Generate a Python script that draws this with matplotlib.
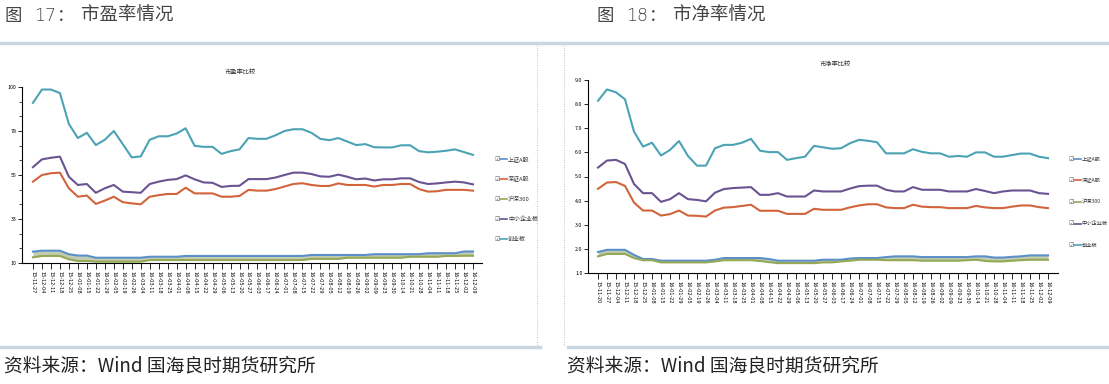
import matplotlib
matplotlib.use("Agg")
import matplotlib.pyplot as plt
from matplotlib.lines import Line2D
from matplotlib.ticker import FixedLocator

plt.rcParams['font.family'] = ['Noto Sans CJK SC', 'DejaVu Sans']

# ---- data -------------------------------------------------------------
dates = ['15-11-27', '15-12-04', '15-12-11', '15-12-18', '15-12-25', '16-01-08',
         '16-01-15', '16-01-22', '16-01-29', '16-02-05', '16-02-19', '16-02-26',
         '16-03-04', '16-03-11', '16-03-18', '16-03-25', '16-04-01', '16-04-08',
         '16-04-15', '16-04-22', '16-04-29', '16-05-06', '16-05-13', '16-05-20',
         '16-05-27', '16-06-03', '16-06-17', '16-06-24', '16-07-01', '16-07-08',
         '16-07-15', '16-07-22', '16-07-29', '16-08-05', '16-08-12', '16-08-19',
         '16-08-26', '16-09-02', '16-09-09', '16-09-23', '16-09-30', '16-10-14',
         '16-10-21', '16-10-28', '16-11-04', '16-11-11', '16-11-18', '16-11-25',
         '16-12-02', '16-12-09']
dates_pb = ['15-11-20'] + dates

names = ['上证A股', '深证A股', '沪深300', '中小企业板', '创业板']
colors = ['#5b8fc9', '#d2643c', '#94a856', '#6a5391', '#4ba3b5']

# 市盈率 (PE)
pe_sh = [15.8, 16.3, 16.3, 16.3, 14.5, 13.8, 13.8, 12.7, 12.7, 12.7, 12.7, 12.7,
         12.7, 13.2, 13.2, 13.2, 13.2, 13.6, 13.6, 13.6, 13.6, 13.6, 13.6, 13.6,
         13.6, 13.6, 13.6, 13.6, 13.6, 13.6, 13.6, 14.1, 14.1, 14.1, 14.1, 14.1,
         14.1, 14.1, 14.5, 14.5, 14.5, 14.5, 14.5, 14.5, 15.0, 15.0, 15.0, 15.0,
         15.9, 15.9]
pe_sz = [51.6, 55.0, 55.9, 56.2, 48.2, 43.9, 44.5, 40.2, 41.9, 43.9, 41.1, 40.5,
         40.0, 43.9, 44.7, 45.3, 45.3, 48.5, 45.6, 45.6, 45.6, 43.9, 43.9, 44.3,
         47.4, 47.0, 47.0, 47.8, 49.1, 50.4, 50.8, 49.9, 49.4, 49.4, 50.7, 49.9,
         49.9, 49.9, 49.1, 49.9, 49.9, 50.4, 50.4, 47.8, 46.5, 46.7, 47.4, 47.4,
         47.4, 47.0]
pe_hs300 = [12.9, 13.6, 13.6, 13.6, 11.9, 11.0, 11.0, 10.7, 10.7, 10.7, 10.7, 10.7,
            10.7, 11.5, 11.5, 11.5, 11.5, 11.5, 11.5, 11.5, 11.5, 11.5, 11.5, 11.5,
            11.5, 11.5, 11.5, 11.5, 11.5, 11.5, 11.5, 12.1, 12.1, 12.1, 12.1, 12.7,
            12.7, 12.7, 12.7, 12.7, 12.7, 12.7, 13.2, 13.2, 13.2, 13.2, 13.6, 13.6,
            13.7, 13.7]
pe_zxb = [59.0, 63.0, 63.8, 64.4, 54.1, 49.9, 50.4, 45.9, 48.2, 49.9, 46.5, 46.2,
          45.9, 50.4, 51.6, 52.5, 52.9, 54.8, 52.8, 51.2, 51.0, 48.9, 49.4, 49.5,
          52.9, 52.9, 52.9, 53.7, 55.0, 56.2, 56.2, 55.5, 54.3, 54.1, 55.2, 54.1,
          52.8, 53.2, 52.2, 52.8, 52.8, 53.3, 53.3, 51.4, 50.4, 50.7, 51.2, 51.6,
          51.2, 50.2]
pe_cyb = [91.9, 98.7, 98.7, 96.9, 81.1, 73.9, 76.6, 70.3, 73.0, 77.5, 70.8, 64.0,
          64.5, 73.0, 74.8, 74.8, 76.2, 78.9, 69.9, 69.4, 69.4, 65.8, 67.2, 68.1,
          73.9, 73.5, 73.5, 75.3, 77.5, 78.4, 78.4, 76.6, 73.5, 72.8, 73.9, 72.1,
          70.3, 70.8, 69.2, 69.1, 69.1, 70.2, 70.2, 67.2, 66.6, 66.9, 67.4, 68.1,
          66.7, 65.3]

# 市净率 (PB)
pb_sh = [1.87, 1.96, 1.96, 1.96, 1.75, 1.58, 1.58, 1.51, 1.51, 1.51, 1.51, 1.51,
         1.51, 1.55, 1.62, 1.62, 1.62, 1.62, 1.62, 1.58, 1.51, 1.51, 1.51, 1.51,
         1.51, 1.55, 1.55, 1.55, 1.60, 1.62, 1.62, 1.62, 1.66, 1.69, 1.69, 1.69,
         1.66, 1.66, 1.66, 1.66, 1.66, 1.66, 1.69, 1.69, 1.64, 1.64, 1.67, 1.69,
         1.73, 1.73, 1.73]
pb_sz = [4.49, 4.75, 4.77, 4.61, 3.92, 3.59, 3.59, 3.38, 3.44, 3.59, 3.38, 3.37,
         3.34, 3.59, 3.71, 3.73, 3.78, 3.83, 3.58, 3.58, 3.58, 3.45, 3.45, 3.45,
         3.66, 3.62, 3.62, 3.62, 3.72, 3.80, 3.85, 3.85, 3.72, 3.69, 3.69, 3.83,
         3.75, 3.73, 3.73, 3.69, 3.69, 3.69, 3.78, 3.72, 3.69, 3.69, 3.75, 3.80,
         3.80, 3.73, 3.69]
pb_hs300 = [1.69, 1.79, 1.79, 1.79, 1.62, 1.53, 1.53, 1.44, 1.44, 1.44, 1.44, 1.44,
            1.44, 1.48, 1.53, 1.53, 1.53, 1.53, 1.50, 1.45, 1.41, 1.41, 1.41, 1.41,
            1.41, 1.44, 1.44, 1.48, 1.51, 1.55, 1.55, 1.55, 1.53, 1.53, 1.53, 1.53,
            1.51, 1.51, 1.51, 1.51, 1.51, 1.53, 1.55, 1.50, 1.48, 1.48, 1.51, 1.53,
            1.55, 1.55, 1.55]
pb_zxb = [5.37, 5.66, 5.69, 5.52, 4.69, 4.31, 4.31, 3.95, 4.06, 4.31, 4.06, 4.03,
          3.97, 4.33, 4.48, 4.52, 4.54, 4.56, 4.24, 4.24, 4.31, 4.17, 4.17, 4.17,
          4.42, 4.38, 4.38, 4.38, 4.50, 4.60, 4.62, 4.62, 4.45, 4.38, 4.38, 4.56,
          4.45, 4.45, 4.45, 4.38, 4.38, 4.38, 4.48, 4.40, 4.31, 4.38, 4.42, 4.42,
          4.42, 4.31, 4.28]
pb_cyb = [8.14, 8.61, 8.49, 8.20, 6.86, 6.24, 6.40, 5.87, 6.10, 6.47, 5.85, 5.45,
          5.45, 6.17, 6.31, 6.31, 6.40, 6.56, 6.07, 6.01, 6.01, 5.69, 5.76, 5.82,
          6.27, 6.21, 6.15, 6.17, 6.38, 6.52, 6.48, 6.42, 5.96, 5.96, 5.96, 6.13,
          6.02, 5.96, 5.96, 5.82, 5.85, 5.82, 6.00, 6.00, 5.82, 5.82, 5.89, 5.95,
          5.95, 5.82, 5.76]

pe_series = [pe_sh, pe_sz, pe_hs300, pe_zxb, pe_cyb]
pb_series = [pb_sh, pb_sz, pb_hs300, pb_zxb, pb_cyb]

# ---- figure -------------------------------------------------------------
W, H = 1109, 384
fig = plt.figure(figsize=(W / 100, H / 100), dpi=100)
fig.patch.set_facecolor('white')


def px(x, y):
    return x / W, 1 - y / H


def box(x0, y0, x1, y1):
    return [x0 / W, 1 - y1 / H, (x1 - x0) / W, (y1 - y0) / H]


# page decorations
fig.add_artist(Line2D([0, 1], [1 - 43 / H] * 2, color='#c9d7e2', lw=2.5))
fig.add_artist(Line2D([0, 540 / W], [1 - 347 / H] * 2, color='#c9d7e2', lw=2.5))
fig.add_artist(Line2D([568 / W, 1], [1 - 347 / H] * 2, color='#c9d7e2', lw=2.5))
for xv in (537, 564):
    fig.add_artist(Line2D([xv / W] * 2, [1 - 45 / H, 1 - 345 / H],
                          color='#c0c0c0', lw=0.7, ls=(0, (1, 1.5))))

txt = '#444444'


def heading(x0, num, name):
    # 图 / 编号 / 冒号 / 标题 are spaced apart like in the report
    fig.text(*px(x0, 16), '图', fontsize=12.5, color=txt, va='center')
    fig.text(*px(x0 + 30, 16), num, fontsize=12.5, color=txt, va='center',
             family='DejaVu Sans', fontweight='light')
    fig.text(*px(x0 + 53, 16), '：', fontsize=12.5, color=txt, va='center')
    fig.text(*px(x0 + 77, 16), name, fontsize=13.3, color=txt, va='center')


heading(4, '17', '市盈率情况')
heading(596, '18', '市净率情况')
src = '资料来源：Wind 国海良时期货研究所'
fig.text(*px(4, 366), src, fontsize=13.5, color='#222', va='center')
fig.text(*px(567, 366), src, fontsize=13.5, color='#222', va='center')


def style_axes(ax, labels):
    for s in ('top', 'right'):
        ax.spines[s].set_visible(False)
    for s in ('left', 'bottom'):
        ax.spines[s].set_linewidth(0.8)
    ax.set_xticks(range(len(labels)))
    ax.set_xticklabels(labels, rotation=-90, fontsize=3.6, family='DejaVu Sans')
    ax.tick_params(axis='x', length=4, width=0.6, pad=2)
    ax.tick_params(axis='y', length=3, width=0.6, labelsize=3.8, pad=1)
    ax.tick_params(which='minor', length=2, width=0.5)
    ax.set_facecolor('none')


def legend(x_box, y_first, step, fs):
    for i, (n, c) in enumerate(zip(names, colors)):
        y = y_first + i * step
        fig.text(*px(x_box, y), '☑', fontsize=4.5, color='#666', va='center',
                 family='DejaVu Sans')
        fig.add_artist(Line2D([(x_box + 6) / W, (x_box + 13) / W], [1 - y / H] * 2,
                              color=c, lw=1.2))
        fig.text(*px(x_box + 14, y), n, fontsize=fs, color='#333', va='center')


# left: PE
ax1 = fig.add_axes(box(22, 87, 482, 263))
x1 = range(len(dates))
ax1.fill_between(x1, pe_hs300, pe_sh, color='#c3ccb0', lw=0)
for vals, c in zip(pe_series, colors):
    ax1.plot(x1, vals, color=c, lw=1.5, solid_joinstyle='round')
ax1.set_xlim(-1.22, 50.0)
ax1.set_ylim(10, 100)
ax1.set_yticks([10, 32.5, 55, 77.5, 100])
ax1.set_yticklabels(['10', '33', '55', '78', '100'])
ax1.yaxis.set_minor_locator(FixedLocator([17.5, 25, 40, 47.5, 62.5, 70, 85, 92.5]))
style_axes(ax1, dates)
fig.text(*px(240, 72), '市盈率比较', fontsize=4.5, color='#333', ha='center', va='center')
legend(494, 159, 20, 4.3)

# right: PB
ax2 = fig.add_axes(box(588, 80, 1058, 273))
x2 = range(len(dates_pb))
ax2.fill_between(x2, pb_hs300, pb_sh, color='#c3ccb0', lw=0)
for vals, c in zip(pb_series, colors):
    ax2.plot(x2, vals, color=c, lw=1.5, solid_joinstyle='round')
ax2.set_xlim(-1.11, 51.11)
ax2.set_ylim(1.0, 9.0)
ax2.set_yticks([1, 2, 3, 4, 5, 6, 7, 8, 9])
ax2.set_yticklabels([f'{v:.1f}' for v in range(1, 10)])
style_axes(ax2, dates_pb)
fig.text(*px(835, 64), '市净率比较', fontsize=4.5, color='#333', ha='center', va='center')
legend(1068, 159, 21.5, 3.8)

fig.savefig('out.png', dpi=100)
